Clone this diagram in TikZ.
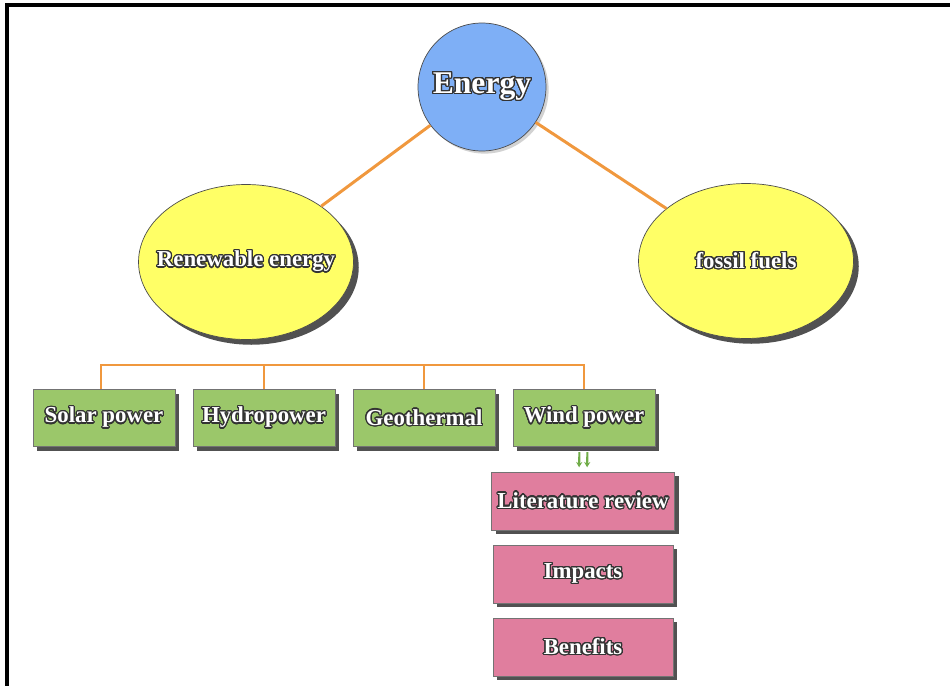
\documentclass[tikz,border=0pt]{standalone}
\usepackage{fontspec}
\setmainfont{Liberation Serif}
\usepackage{contour}
\contourlength{0.7pt}
\contournumber{24}
\usetikzlibrary{shapes.geometric,shadows,arrows.meta}
\definecolor{energyblue}{RGB}{126,175,246}
\definecolor{fuelyellow}{RGB}{255,255,102}
\definecolor{topicgreen}{RGB}{155,199,106}
\definecolor{detailpink}{RGB}{224,126,158}
\definecolor{linkorange}{RGB}{240,152,62}
\definecolor{twingreen}{RGB}{112,172,72}
\newcommand{\lbl}[1]{\contour{black!80}{#1}}
\newcommand{\widelbl}[1]{\makebox[0pt]{\contour{black!80}{#1}}}
\tikzset{
  hub/.style={circle, draw=gray!60!black, fill=energyblue, minimum size=2.56cm,
    text=white, font=\bfseries\fontsize{18}{20}\selectfont,
    drop shadow={shadow xshift=1.5pt, shadow yshift=-1.5pt, fill=black!35}},
  branch/.style={ellipse, draw=black!70, fill=fuelyellow, minimum width=4.3cm,
    minimum height=3.1cm, text=white, font=\bfseries\fontsize{13}{15}\selectfont,
    drop shadow={shadow xshift=3pt, shadow yshift=-3pt, fill=black!80, opacity=0.85}},
  topic/.style={rectangle, draw=black!55, fill=topicgreen, minimum width=2.84cm,
    minimum height=1.14cm, text=white, font=\bfseries\fontsize{13}{15}\selectfont,
    drop shadow={shadow xshift=2.5pt, shadow yshift=-2.5pt, fill=black!80, opacity=0.85}},
  detail/.style={rectangle, draw=black!55, fill=detailpink, minimum width=3.6cm,
    minimum height=1.16cm, text=white, font=\bfseries\fontsize{13}{15}\selectfont,
    drop shadow={shadow xshift=2.5pt, shadow yshift=-2.5pt, fill=black!80, opacity=0.85}},
  link/.style={draw=linkorange, line width=1.7pt},
  bracket/.style={draw=linkorange, line width=1.1pt},
  twin/.style={draw=twingreen, line width=1.2pt, -{Stealth[length=3pt,width=3.5pt]},
    shorten <=3pt, shorten >=2.5pt}
}
\begin{document}
\begin{tikzpicture}[x=0.02cm, y=-0.02cm]
    \useasboundingbox (0,0) rectangle (950,686);
    % page frame
    \draw[line width=1.8pt] (7,686) -- (7,5) -- (950,5);

    \node[hub] at (482,87) (energy) {\lbl{Energy}};
    \node[branch] at (246,262) (renew) {\widelbl{Renewable energy}};
    \node[branch] at (746,261) (fossil) {\widelbl{fossil fuels}};
    \node[topic] at (104,418) (solar) {\lbl{Solar power}};
    \node[topic] at (264,418) (hydro) {\lbl{Hydropower}};
    \node[topic] at (424,418) (geo) {\lbl{Geothermal}};
    \node[topic] at (584,418) (wind) {\lbl{Wind power}};
    \node[detail] at (583,501) (lit) {\lbl{Literature review}};
    \node[detail] at (583,574) (impacts) {\lbl{Impacts}};
    \node[detail] at (583,647) (benefits) {\lbl{Benefits}};
    \coordinate (bar) at (101,365);

    \draw[link] (energy) -- (renew);
    \draw[link] (energy) -- (fossil);
    \draw[bracket] ([xshift=-0.06cm]solar.north) |- (wind.north |- bar) -- (wind.north);
    \draw[bracket] (hydro.north |- bar) -- (hydro.north);
    \draw[bracket] (geo.north |- bar) -- (geo.north);
    \draw[twin] ([xshift=-0.09cm]wind.south) -- ([xshift=-0.08cm]lit.north);
    \draw[twin] ([xshift=0.07cm]wind.south) -- ([xshift=0.08cm]lit.north);
\end{tikzpicture}
\end{document}
